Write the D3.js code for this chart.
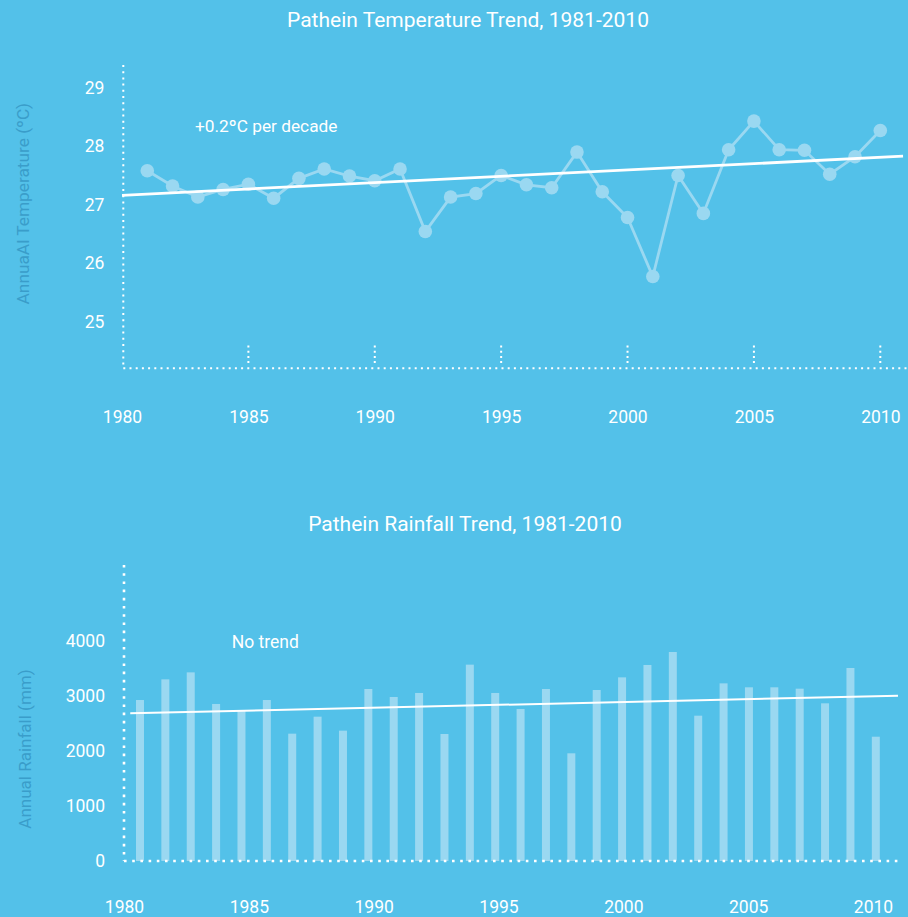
<!DOCTYPE html>
<html>
<head>
<meta charset="utf-8">
<script src="https://cdn.jsdelivr.net/npm/d3@7"></script>
<style>
  html, body { margin: 0; padding: 0; background: #53c1e9; }
  svg { display: block; font-family: Roboto, "Noto Sans", sans-serif; }
</style>
</head>
<body>
<svg id="chart" width="908" height="917"></svg>
<script>
// Annual mean temperature at Pathein (°C)
const years = d3.range(1981, 2011);
const temperature = [
  27.58, 27.32, 27.13, 27.26, 27.35, 27.11, 27.45, 27.61, 27.49, 27.41,
  27.61, 26.54, 27.13, 27.19, 27.50, 27.34, 27.29, 27.90, 27.22, 26.78,
  25.77, 27.50, 26.85, 27.94, 28.43, 27.94, 27.93, 27.52, 27.82, 28.27
];
// Linear trend endpoints (+0.2 °C per decade)
const tempTrendYears = [1980, 2010.9];
const tempTrendValues = [27.16, 27.83];
const tempTicks = [25, 26, 27, 28, 29];

// Annual rainfall at Pathein (mm)
const rainfall = [
  2927, 3303, 3430, 2855, 2727, 2927, 2315, 2624, 2370, 3127,
  2982, 3055, 2309, 3570, 3055, 2764, 3127, 1958, 3109, 3339,
  3564, 3800, 2642, 3230, 3158, 3158, 3133, 2867, 3509, 2260
];
const rainTrendYears = [1980.25, 2011];
const rainTrendValues = [2685, 3005];
const rainTicks = [0, 1000, 2000, 3000, 4000];

const yearTicks = [1980, 1985, 1990, 1995, 2000, 2005, 2010];

const svg = d3.select("#chart");
const bg = "#53c1e9";
const light = "#9ad8f1";
const titleColor = "#3a9dca";

svg.append("rect").attr("width", 908).attr("height", 917).attr("fill", bg);

function styleAxisText(g, size) {
  g.select(".domain").remove();
  g.selectAll(".tick line").remove();
  g.selectAll("text").attr("fill", "#ffffff").style("font-size", size + "px")
    .style("font-family", "Roboto, sans-serif");
}

// ---------- Temperature panel ----------
const t = svg.append("g");
const xT = d3.scaleLinear().domain([1980, 2010]).range([122, 880.3]);
const yT = d3.scaleLinear().domain([25, 29]).range([321.5, 87.8]);

t.append("text").attr("x", 468).attr("y", 26.8).attr("text-anchor", "middle")
  .attr("fill", "#fff").style("font-size", "21px")
  .text("Pathein Temperature Trend, 1981-2010");

// dotted frame
t.append("line").attr("x1", 123.3).attr("x2", 123.3).attr("y1", 65).attr("y2", 368.3)
  .attr("stroke", "#fff").attr("stroke-width", 2).attr("stroke-dasharray", "2,4.2");
t.append("line").attr("x1", 123.3).attr("x2", 908).attr("y1", 368.3).attr("y2", 368.3)
  .attr("stroke", "#fff").attr("stroke-width", 2).attr("stroke-dasharray", "2,4.2");
t.selectAll("line.tk").data(yearTicks.slice(1)).join("line").attr("class", "tk")
  .attr("x1", d => xT(d)).attr("x2", d => xT(d)).attr("y1", 345.5).attr("y2", 363)
  .attr("stroke", "#fff").attr("stroke-width", 2).attr("stroke-dasharray", "2,3.2");

t.append("g").attr("transform", "translate(123.3,0)")
  .call(d3.axisLeft(yT).tickValues(tempTicks).tickSize(0).tickPadding(19).tickFormat(d3.format("d")))
  .call(g => styleAxisText(g, 17.5));

t.append("g").attr("transform", "translate(0,368)")
  .call(d3.axisBottom(xT).tickValues(yearTicks).tickSize(0).tickPadding(42.5).tickFormat(d3.format("d")))
  .call(g => styleAxisText(g, 17.5));

t.append("text").attr("transform", "translate(29,203.7) rotate(-90)")
  .attr("text-anchor", "middle").attr("fill", titleColor).style("font-size", "17.3px")
  .text("AnnuaAl Temperature (ºC)");

// series
const tData = years.map((y, i) => ({ year: y, value: temperature[i] }));
t.append("path").datum(tData)
  .attr("fill", "none").attr("stroke", light).attr("stroke-width", 2.8)
  .attr("d", d3.line().x(d => xT(d.year)).y(d => yT(d.value)));
t.selectAll("circle").data(tData).join("circle")
  .attr("cx", d => xT(d.year)).attr("cy", d => yT(d.value)).attr("r", 6.8)
  .attr("fill", light);

// trend
t.append("line")
  .attr("x1", xT(tempTrendYears[0])).attr("y1", yT(tempTrendValues[0]))
  .attr("x2", xT(tempTrendYears[1])).attr("y2", yT(tempTrendValues[1]))
  .attr("stroke", "#fff").attr("stroke-width", 2.8);

t.append("text").attr("x", 195).attr("y", 131.7).attr("fill", "#fff")
  .style("font-size", "17.3px").text("+0.2ºC per decade");

// ---------- Rainfall panel ----------
const r = svg.append("g");
const xLab = d3.scaleLinear().domain([1980, 2010]).range([124, 873]);
const xBar = d3.scaleBand().domain(years).range([127.3, 888.5])
  .paddingInner(0.685).paddingOuter(0.3425);
const yR = d3.scaleLinear().domain([0, 4000]).range([861, 641]);

r.append("text").attr("x", 465).attr("y", 531).attr("text-anchor", "middle")
  .attr("fill", "#fff").style("font-size", "21px")
  .text("Pathein Rainfall Trend, 1981-2010");

r.selectAll("rect.bar").data(years.map((y, i) => ({ year: y, value: rainfall[i] })))
  .join("rect").attr("class", "bar")
  .attr("x", d => xBar(d.year)).attr("width", xBar.bandwidth())
  .attr("y", d => yR(d.value)).attr("height", d => yR(0) - yR(d.value))
  .attr("fill", light);

r.append("line").attr("x1", 124).attr("x2", 124).attr("y1", 565).attr("y2", yR(0))
  .attr("stroke", "#fff").attr("stroke-width", 2.6).attr("stroke-dasharray", "2.6,5.6");
r.append("line").attr("x1", 124).attr("x2", 902).attr("y1", yR(0)).attr("y2", yR(0))
  .attr("stroke", "#fff").attr("stroke-width", 2.6).attr("stroke-dasharray", "2.6,5.6");

r.append("g").attr("transform", "translate(124,0)")
  .call(d3.axisLeft(yR).tickValues(rainTicks).tickSize(0).tickPadding(19).tickFormat(d3.format("d")))
  .call(g => styleAxisText(g, 17.5));

r.append("g").attr("transform", "translate(0,861)")
  .call(d3.axisBottom(xLab).tickValues(yearTicks).tickSize(0).tickPadding(40).tickFormat(d3.format("d")))
  .call(g => styleAxisText(g, 17.5));

r.append("text").attr("transform", "translate(31,749) rotate(-90)")
  .attr("text-anchor", "middle").attr("fill", titleColor).style("font-size", "17px")
  .text("Annual Rainfall (mm)");

r.append("line")
  .attr("x1", xLab(rainTrendYears[0])).attr("y1", yR(rainTrendValues[0]))
  .attr("x2", xLab(rainTrendYears[1])).attr("y2", yR(rainTrendValues[1]))
  .attr("stroke", "#fff").attr("stroke-width", 2);

r.append("text").attr("x", 231.7).attr("y", 648.3).attr("fill", "#fff")
  .style("font-size", "17.5px").text("No trend");
</script>
</body>
</html>
